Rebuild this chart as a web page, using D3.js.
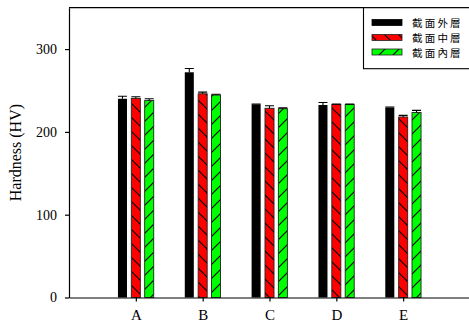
<!DOCTYPE html>
<html>
<head>
<meta charset="utf-8">
<script src="https://cdn.jsdelivr.net/npm/d3@7"></script>
<style>
  html, body { margin: 0; padding: 0; background: #fff; }
  svg { display: block; }
  .serif { font-family: "Liberation Serif", "Times New Roman", serif; }
</style>
</head>
<body>
<div id="chart"></div>
<script>
// categories and series values (hardness, HV)
const categories = ['A', 'B', 'C', 'D', 'E'];
const seriesNames = ['截面外層', '截面中層', '截面內層'];
const outerVals = [240, 272, 233, 232.5, 229.5];
const outerErr = [3, 4.5, 0.5, 3, 0.5];
const middleVals = [240.5, 246, 228.5, 233, 218];
const middleErr = [2, 2, 3, 0.5, 2];
const innerVals = [238, 244.5, 228, 233, 223.5];
const innerErr = [2, 1, 1, 0.5, 2.5];
const yTicks = [0, 100, 200, 300];

const W = 469, H = 329;
const svg = d3.select('#chart').append('svg').attr('width', W).attr('height', H);

// hatch patterns
const defs = svg.append('defs');
function hatch(id, bg, d) {
  const p = defs.append('pattern')
    .attr('id', id)
    .attr('patternUnits', 'userSpaceOnUse')
    .attr('width', 14)
    .attr('height', 14);
  p.append('rect').attr('width', 14).attr('height', 14).attr('fill', bg);
  p.append('path').attr('d', d).attr('stroke', '#000').attr('stroke-width', 1.1);
}
hatch('hatchRed', '#ff0000', 'M0,0 L14,14 M-2,12 L2,16 M12,-2 L16,2');
hatch('hatchGreen', '#00ff00', 'M0,14 L14,0 M-2,2 L2,-2 M12,16 L16,12');

const series = [
  { name: seriesNames[0], vals: outerVals, err: outerErr, fill: '#000', stroke: 'none', off: -0.2 },
  { name: seriesNames[1], vals: middleVals, err: middleErr, fill: 'url(#hatchRed)', stroke: '#222', off: 0 },
  { name: seriesNames[2], vals: innerVals, err: innerErr, fill: 'url(#hatchGreen)', stroke: '#222', off: 0.2 },
];

// scales
const x = d3.scaleLinear().domain([0, 6]).range([69, 470]);
const y = d3.scaleLinear().domain([0, 350]).range([297.5, 7.7]);
const barW = x(0.135) - x(0);

// frame top line
svg.append('line')
  .attr('x1', x(0)).attr('x2', x(6))
  .attr('y1', y(350)).attr('y2', y(350))
  .attr('stroke', '#000').attr('stroke-width', 1.2);

// bars and error bars
series.forEach((s) => {
  const g = svg.append('g');
  g.selectAll('rect')
    .data(s.vals)
    .enter()
    .append('rect')
    .attr('x', (d, i) => x(i + 1 + s.off) - barW / 2)
    .attr('y', (d) => y(d))
    .attr('width', barW)
    .attr('height', (d) => y(0) - y(d))
    .attr('fill', s.fill)
    .attr('stroke', s.stroke)
    .attr('stroke-width', 0.9);

  g.selectAll('path.err')
    .data(s.vals)
    .enter()
    .append('path')
    .attr('class', 'err')
    .attr('d', (d, i) => {
      const cx = x(i + 1 + s.off);
      const top = y(d + s.err[i]);
      return `M${cx},${y(d)} L${cx},${top} M${cx - barW / 2},${top} L${cx + barW / 2},${top}`;
    })
    .attr('stroke', '#000')
    .attr('stroke-width', 1.1)
    .attr('fill', 'none');
});

// y axis
const yAxis = svg.append('g')
  .attr('transform', `translate(${x(0)},0)`)
  .call(d3.axisLeft(y).tickValues(yTicks).tickSize(4).tickSizeOuter(0).tickPadding(8));
yAxis.select('.domain').attr('stroke-width', 1.2);
yAxis.selectAll('line').attr('stroke-width', 1.2);
yAxis.selectAll('text')
  .attr('class', 'serif')
  .attr('font-family', '"Liberation Serif", serif')
  .attr('font-size', 14)
  .attr('fill', '#000');

// x axis
const xAxis = svg.append('g')
  .attr('transform', `translate(0,${y(0)})`)
  .call(d3.axisBottom(x)
    .tickValues(d3.range(1, categories.length + 1))
    .tickFormat((d) => categories[d - 1])
    .tickSize(4)
    .tickSizeOuter(0)
    .tickPadding(8));
xAxis.select('.domain').attr('stroke-width', 1.2);
xAxis.selectAll('line').attr('stroke-width', 1.2);
xAxis.selectAll('text')
  .attr('font-family', '"Liberation Serif", serif')
  .attr('font-size', 15)
  .attr('fill', '#000');

// y title
svg.append('text')
  .attr('transform', `translate(21,${(y(0) + y(350)) / 2}) rotate(-90)`)
  .attr('text-anchor', 'middle')
  .attr('font-family', '"Liberation Serif", serif')
  .attr('font-size', 16)
  .text('Hardness (HV)');

// legend
const legend = svg.append('g');
legend.append('rect')
  .attr('x', 363.5).attr('y', y(350))
  .attr('width', 120).attr('height', 61)
  .attr('fill', '#fff')
  .attr('stroke', '#000')
  .attr('stroke-width', 1.1);
const legendY = [22.5, 37.5, 52];
series.forEach((s, i) => {
  legend.append('rect')
    .attr('x', 372).attr('y', legendY[i] - 3)
    .attr('width', 30).attr('height', 6)
    .attr('fill', s.fill)
    .attr('stroke', s.stroke === 'none' ? '#000' : s.stroke)
    .attr('stroke-width', 0.8);
  legend.append('text')
    .attr('x', 412).attr('y', legendY[i])
    .attr('dominant-baseline', 'central')
    .attr('font-family', '"Noto Sans CJK TC", "Noto Sans CJK SC", sans-serif')
    .attr('font-size', 10.5)
    .attr('letter-spacing', 2.2)
    .text(s.name);
});
</script>
</body>
</html>
